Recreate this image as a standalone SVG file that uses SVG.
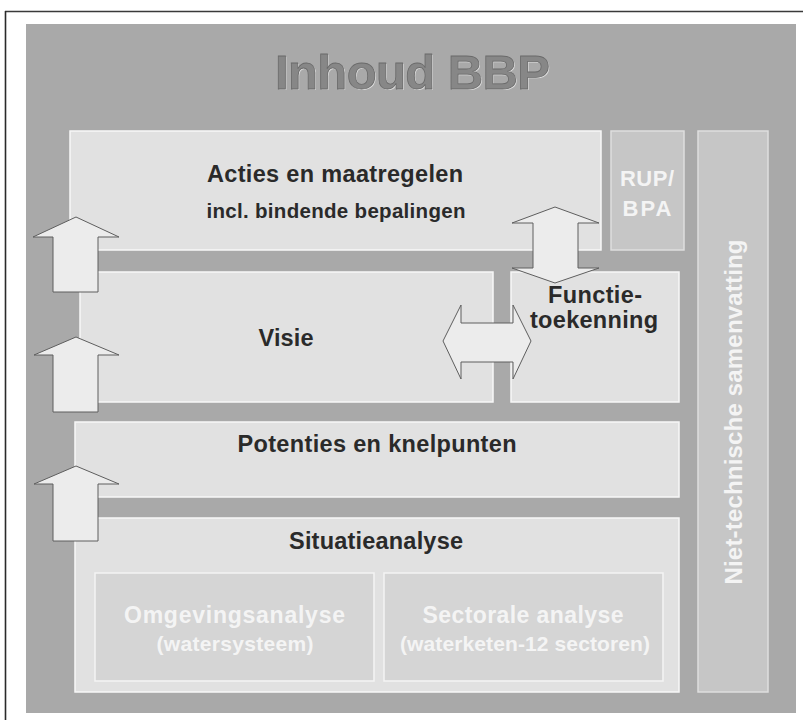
<svg xmlns="http://www.w3.org/2000/svg" width="803" height="720" viewBox="0 0 803 720">
  <style>
    .panel { fill: #e1e1e1; stroke: #f7f7f7; stroke-width: 1.5; }
    .mid { fill: #c6c6c6; stroke: #dedede; stroke-width: 1.5; }
    .sub { fill: #d5d5d5; stroke: #f4f4f4; stroke-width: 1.5; }
    .lbl { font-family: "Liberation Sans", Arial, sans-serif; font-weight: bold; fill: #2a2a2a; text-anchor: middle; }
    .pale { font-family: "Liberation Sans", Arial, sans-serif; font-weight: bold; fill: #f4f4f4; text-anchor: middle; }
    .arrow { fill: #ececec; stroke: #5e5e5e; stroke-width: 1; stroke-linejoin: miter; }
  </style>

  <rect x="0" y="0" width="803" height="720" fill="#ffffff"/>
  <!-- frame lines -->
  <line x1="5" y1="11.5" x2="803" y2="11.5" stroke="#3a3a3a" stroke-width="1.6"/>
  <line x1="5.5" y1="11" x2="5.5" y2="720" stroke="#2a2a2a" stroke-width="1.6"/>

  <!-- slide background -->
  <rect x="26" y="24" width="770" height="689" fill="#a9a9a9"/>

  <g id="title">
    <text x="413.5" y="89.5" font-family="'Liberation Sans', Arial, sans-serif" font-weight="bold" font-size="49" text-anchor="middle" fill="#dedede" textLength="275">Inhoud BBP</text>
    <text x="412.5" y="88.5" font-family="'Liberation Sans', Arial, sans-serif" font-weight="bold" font-size="49" text-anchor="middle" fill="#878787" stroke="#6a6a6a" stroke-width="0.8" textLength="275">Inhoud BBP</text>
  </g>

  <g id="acties">
    <rect class="panel" x="70" y="131" width="531" height="119"/>
    <text class="lbl" x="335" y="182" font-size="23.5" textLength="256">Acties en maatregelen</text>
    <text class="lbl" x="336" y="218" font-size="20.5" textLength="259">incl. bindende bepalingen</text>
  </g>

  <g id="rup-bpa">
    <rect class="mid" x="611" y="131" width="73" height="119"/>
    <text class="pale" x="647" y="186" font-size="22" textLength="54">RUP/</text>
    <text class="pale" x="647" y="216" font-size="22" textLength="49">BPA</text>
  </g>

  <g id="samenvatting">
    <rect class="mid" x="698" y="131" width="70" height="561"/>
    <text class="pale" transform="translate(742 412) rotate(-90)" font-size="24" textLength="345">Niet-technische samenvatting</text>
  </g>

  <g id="visie">
    <rect class="panel" x="80" y="272" width="413" height="130"/>
    <text class="lbl" x="286" y="346" font-size="23.5" textLength="55">Visie</text>
  </g>

  <g id="functietoekenning">
    <rect class="panel" x="511" y="272" width="168" height="130"/>
    <text class="lbl" x="595" y="303" font-size="23.5" textLength="94">Functie-</text>
    <text class="lbl" x="594" y="328" font-size="23.5" textLength="128">toekenning</text>
  </g>

  <g id="potenties">
    <rect class="panel" x="75" y="422" width="604" height="75"/>
    <text class="lbl" x="377" y="452" font-size="23.5" textLength="279">Potenties en knelpunten</text>
  </g>

  <g id="situatieanalyse">
    <rect class="panel" x="75" y="518" width="604" height="174"/>
    <text class="lbl" x="376" y="549" font-size="23.5" textLength="174">Situatieanalyse</text>
  </g>

  <g id="omgevingsanalyse">
    <rect class="sub" x="95" y="573" width="279" height="108"/>
    <text class="pale" x="234.5" y="623" font-size="23" textLength="221">Omgevingsanalyse</text>
    <text class="pale" x="235" y="651" font-size="21" textLength="157">(watersysteem)</text>
  </g>

  <g id="sectorale-analyse">
    <rect class="sub" x="384" y="573" width="279" height="108"/>
    <text class="pale" x="523" y="623" font-size="23" textLength="201">Sectorale analyse</text>
    <text class="pale" x="525" y="651" font-size="21" textLength="250">(waterketen-12 sectoren)</text>
  </g>

  <g id="connectors">
    <path class="arrow" d="M76,217 L119,237 L98,237 L98,292 L53,292 L53,237 L33,237 Z"/>
    <path class="arrow" d="M76,337 L119,355 L98,355 L98,412 L53,412 L53,355 L34,355 Z"/>
    <path class="arrow" d="M76,466 L119,484 L98,484 L98,541 L53,541 L53,484 L34,484 Z"/>
    <path class="arrow" d="M555,207 L599,223 L578,223 L578,268 L599,268 L555,283 L512,268 L533,268 L533,223 L512,223 Z"/>
    <path class="arrow" d="M443,341 L461,305 L461,323 L513,323 L513,305 L531,341 L513,379 L513,362 L461,362 L461,379 Z"/>
  </g>
</svg>
